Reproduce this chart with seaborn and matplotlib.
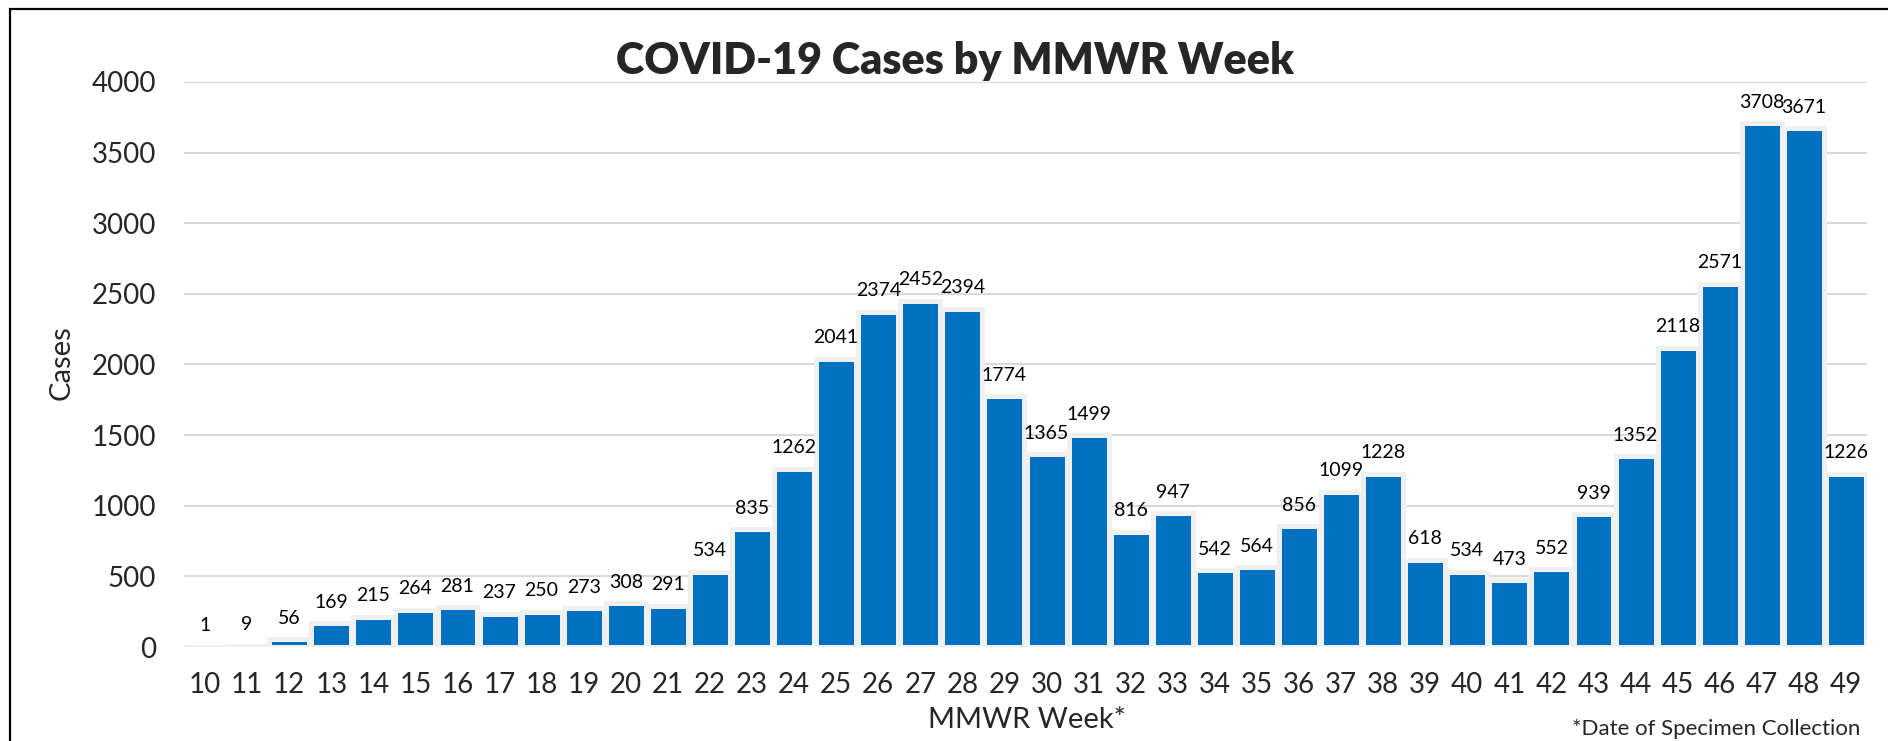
import matplotlib
matplotlib.use("Agg")
import matplotlib.pyplot as plt
import seaborn as sns
from matplotlib.patches import Rectangle

weeks = [str(w) for w in range(10, 50)]
cases = [1, 9, 56, 169, 215, 264, 281, 237, 250, 273, 308, 291,
         534, 835, 1262, 2041, 2374, 2452, 2394, 1774, 1365, 1499, 816, 947,
         542, 564, 856, 1099, 1228, 618, 534, 473, 552, 939, 1352, 2118,
         2571, 3708, 3671, 1226]
y_ticks = [0, 500, 1000, 1500, 2000, 2500, 3000, 3500, 4000]

sns.set_style("white")
plt.rcParams['font.family'] = ['Lato', 'DejaVu Sans']

fig = plt.figure(figsize=(18.88, 7.41), dpi=100)
ax = fig.add_axes([184/1888, 1-647/741, (1867-184)/1888, (647-82)/741])

sns.barplot(x=weeks, y=cases, color='#0070C0', saturation=1,
            edgecolor='#F0F0F0', linewidth=3.6, width=0.95, ax=ax)

for c in ax.containers:
    ax.bar_label(c, labels=[str(v) for v in cases], padding=9,
                 fontsize=14, color='black', clip_on=False)

ax.set_ylim(0, 4000)
ax.set_xlim(-0.5, len(weeks) - 0.5)
ax.set_yticks(y_ticks)
ax.yaxis.grid(True, color='#D9D9D9', linewidth=1.5)
ax.set_axisbelow(True)
for s in ax.spines.values():
    s.set_visible(False)
ax.tick_params(axis='both', length=0, labelsize=20)
ax.tick_params(axis='x', pad=18)
ax.tick_params(axis='y', pad=20)
ax.set_xlabel("")
ax.set_ylabel("")

fig.text(955/1888, 1-61/741, "COVID-19 Cases by MMWR Week",
         ha='center', va='center', fontsize=31, fontweight='heavy')
fig.text(62/1888, 1-363/741, "Cases", rotation=90,
         ha='center', va='center', fontsize=21)
fig.text(1027/1888, 1-720/741, "MMWR Week*",
         ha='center', va='center', fontsize=21)
fig.text(1860/1888, 1-729/741, "*Date of Specimen Collection",
         ha='right', va='center', fontsize=16)

fig.patches.append(Rectangle((10/1888, -0.1), 1.2, 1.1 - 9/741,
                             transform=fig.transFigure, fill=False,
                             edgecolor='black', linewidth=1.6))

fig.savefig("out.png", dpi=100)
